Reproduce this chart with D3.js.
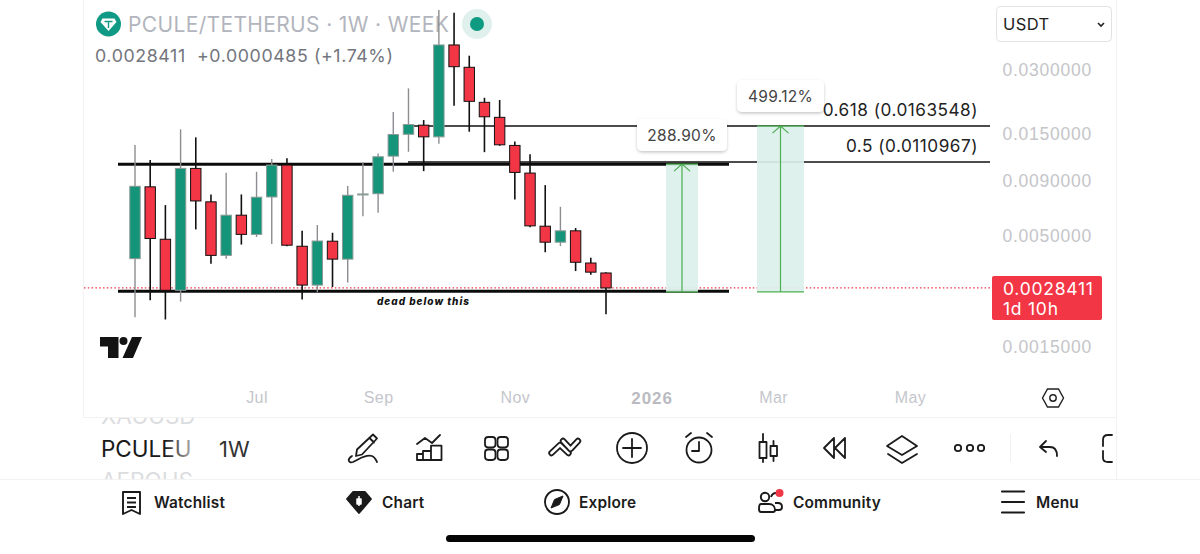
<!DOCTYPE html>
<html>
<head>
<meta charset="utf-8">
<style>
  html, body { margin: 0; padding: 0; background: #fff; }
  svg { display: block; font-family: Inter, "Noto Sans", sans-serif; }
</style>
<script src="https://cdn.jsdelivr.net/npm/d3@7/dist/d3.min.js"></script>
</head>
<body>
<svg id="chart" width="1200" height="554"></svg>
<script>
const WIDTH = 1200;
const HEIGHT = 554;

// weekly candles, first one is the week of 12 May 2025
const opens = [0.00390, 0.00848, 0.00481, 0.00277, 0.01035, 0.00721, 0.00404, 0.00624, 0.00507, 0.00760, 0.01073, 0.00446, 0.00293, 0.00471, 0.00388, 0.00777, 0.00787, 0.01182, 0.01497, 0.01652, 0.01456, 0.03933, 0.03089, 0.02115, 0.01798, 0.01327, 0.00984, 0.00554, 0.00466, 0.00527, 0.00372, 0.00334];
const highs = [0.01332, 0.01133, 0.00696, 0.01579, 0.01448, 0.00781, 0.00987, 0.00781, 0.00998, 0.01145, 0.01154, 0.00527, 0.00561, 0.00516, 0.00856, 0.01107, 0.01215, 0.01903, 0.02460, 0.01746, 0.05740, 0.05577, 0.03502, 0.02222, 0.02168, 0.01386, 0.01205, 0.00864, 0.00683, 0.00543, 0.00394, 0.00337];
const lows = [0.00207, 0.00249, 0.00202, 0.00245, 0.00535, 0.00369, 0.00390, 0.00454, 0.00493, 0.00457, 0.00446, 0.00251, 0.00271, 0.00287, 0.00301, 0.00617, 0.00640, 0.00998, 0.01239, 0.01005, 0.01353, 0.02037, 0.01539, 0.01234, 0.01321, 0.00740, 0.00547, 0.00418, 0.00447, 0.00341, 0.00328, 0.00214];
const closes = [0.00853, 0.00485, 0.00277, 0.01035, 0.00728, 0.00404, 0.00624, 0.00507, 0.00758, 0.01073, 0.00451, 0.00293, 0.00472, 0.00388, 0.00774, 0.00785, 0.01174, 0.01493, 0.01664, 0.01456, 0.03933, 0.03109, 0.02138, 0.01809, 0.01336, 0.00991, 0.00556, 0.00466, 0.00527, 0.00375, 0.00337, 0.0028411];

const priceTicks = [0.03, 0.015, 0.009, 0.005, 0.0015];
const timeTicks = ["2025-07-07", "2025-09-01", "2025-11-03", "2026-01-05", "2026-03-02", "2026-05-04"];
const timeLabels = ["Jul", "Sep", "Nov", "2026", "Mar", "May"];

const lastPrice = 0.0028411;
const resistance = 0.01084;
const support = 0.00274;
const fibLevels = [0.0163548, 0.0110967];
const fibLabels = ["0.618 (0.0163548)", "0.5 (0.0110967)"];

const toolbarItems = ["Watchlist", "Chart", "Explore", "Community", "Menu"];

const GREEN = "#149479";
const RED = "#f23645";
const ARROW_GREEN = "#4caf50";
const ZONE_FILL = "#dcf0ec";
const AXIS_TEXT = "#c4c5c9";

const svg = d3.select("#chart");
const defs = svg.append("defs");

const firstWeek = new Date(Date.UTC(2025, 4, 12));
const weeks = opens.map((d, i) => d3.utcWeek.offset(firstWeek, i));

const x = d3.scaleUtc().domain([weeks[0], weeks[31]]).range([135, 606]);
const y = d3.scaleLog().domain([0.03, 0.0015]).range([70, 347]);

const candles = weeks.map((w, i) => ({ date: w, open: opens[i], high: highs[i], low: lows[i], close: closes[i] }));

// frame
svg.append("rect").attr("width", WIDTH).attr("height", HEIGHT).attr("fill", "#fff");
const frame = svg.append("g").attr("stroke", "#f2f2f3").attr("stroke-width", 1);
frame.append("line").attr("x1", 83.5).attr("x2", 83.5).attr("y1", 0).attr("y2", 418);
frame.append("line").attr("x1", 1116.5).attr("x2", 1116.5).attr("y1", 0).attr("y2", 479);
frame.append("line").attr("x1", 84).attr("x2", 1117).attr("y1", 417.5).attr("y2", 417.5);
frame.append("line").attr("x1", 0).attr("x2", WIDTH).attr("y1", 479.5).attr("y2", 479.5);

// price axis
const priceAxis = d3.axisRight(y)
  .tickValues(priceTicks)
  .tickSize(0)
  .tickFormat(d3.format(".7f"));
const priceG = svg.append("g").attr("transform", "translate(995,0)").call(priceAxis);
priceG.select(".domain").remove();
priceG.selectAll("text")
  .attr("x", 97).attr("text-anchor", "end")
  .attr("fill", AXIS_TEXT).attr("font-size", 17.5).attr("letter-spacing", 0.75);

// time axis
const timeAxis = d3.axisBottom(x)
  .tickValues(timeTicks.map(d => new Date(d + "T00:00:00Z")))
  .tickSize(0)
  .tickFormat((d, i) => timeLabels[i]);
const timeG = svg.append("g").attr("transform", "translate(0,388)").call(timeAxis);
timeG.select(".domain").remove();
timeG.selectAll("text")
  .attr("y", 3.5).attr("dy", "0.71em")
  .attr("fill", (d, i) => timeLabels[i] === "2026" ? "#b9bbc1" : "#c4c6cc")
  .attr("font-size", (d, i) => timeLabels[i] === "2026" ? 17 : 16)
  .attr("font-weight", (d, i) => timeLabels[i] === "2026" ? 700 : 400)
  .attr("letter-spacing", (d, i) => timeLabels[i] === "2026" ? 1 : 0.4);

// last price line
svg.append("line")
  .attr("x1", 84).attr("x2", 990)
  .attr("y1", y(lastPrice)).attr("y2", y(lastPrice))
  .attr("stroke", RED).attr("stroke-width", 1.2).attr("stroke-dasharray", "1.5 2.3");

// fib levels
svg.selectAll(".fib").data(fibLevels).join("line")
  .attr("class", "fib")
  .attr("x1", 408).attr("x2", 990)
  .attr("y1", d => y(d)).attr("y2", d => y(d))
  .attr("stroke", "#111").attr("stroke-width", 1.5);

// hand drawn support and resistance
svg.selectAll(".sr").data([resistance, support]).join("line")
  .attr("class", "sr")
  .attr("x1", 118).attr("x2", 729)
  .attr("y1", d => y(d)).attr("y2", d => y(d))
  .attr("stroke", "#0b0b0b").attr("stroke-width", 3);

svg.append("text")
  .attr("x", 423.5).attr("y", 304.5).attr("text-anchor", "middle")
  .attr("font-size", 10).attr("font-weight", 800).attr("font-style", "italic")
  .attr("letter-spacing", 1).attr("fill", "#111")
  .text("dead below this");

// title goes behind the candles, the big wick crosses it
svg.append("text")
  .attr("x", 128).attr("y", 32)
  .attr("font-size", 21).attr("fill", "#b2b5bd").attr("letter-spacing", 0.35)
  .text("PCULE/TETHERUS · 1W · WEEK");

// candles
const candleG = svg.selectAll(".candle").data(candles).join("g").attr("class", "candle");
const isUp = d => d.close >= d.open;
candleG.append("line")
  .attr("x1", d => x(d.date)).attr("x2", d => x(d.date))
  .attr("y1", d => y(d.high)).attr("y2", d => y(d.low))
  .attr("stroke", d => isUp(d) ? "#8b8d90" : "#111")
  .attr("stroke-width", d => isUp(d) ? 1.4 : 1.6);
candleG.append("rect")
  .attr("x", d => x(d.date) - 5.2)
  .attr("width", 10.4)
  .attr("y", d => y(Math.max(d.open, d.close)))
  .attr("height", d => Math.max(1, Math.abs(y(d.open) - y(d.close))))
  .attr("fill", d => isUp(d) ? GREEN : RED)
  .attr("stroke", d => isUp(d) ? "#8b9a96" : "#111")
  .attr("stroke-width", 1);

// measure zones
const zones = [
  { cx: 682, w: 32, top: resistance, bottom: support, label: "288.90%", boxX: 637, boxY: 119, boxW: 90, boxH: 32 },
  { cx: 780.5, w: 47, top: fibLevels[0], bottom: support, label: "499.12%", boxX: 737, boxY: 80, boxW: 87, boxH: 32 }
];
const shadow = defs.append("filter").attr("id", "soft").attr("x", "-20%").attr("y", "-30%").attr("width", "140%").attr("height", "170%");
shadow.append("feDropShadow").attr("dx", 0).attr("dy", 1.5).attr("stdDeviation", 1.8)
  .attr("flood-color", "#000").attr("flood-opacity", 0.22);

zones.forEach(z => {
  const g = svg.append("g");
  const top = y(z.top);
  const bottom = y(z.bottom) + 0.5;
  g.append("rect").attr("x", z.cx - z.w / 2).attr("width", z.w)
    .attr("y", top).attr("height", bottom - top)
    .attr("fill", ZONE_FILL).attr("opacity", 0.92);
  g.append("path")
    .attr("d", `M${z.cx - z.w / 2} ${bottom}H${z.cx + z.w / 2}M${z.cx - z.w / 2} ${top}H${z.cx + z.w / 2}M${z.cx} ${bottom}V${top}M${z.cx - 8} ${top + 7}L${z.cx} ${top}L${z.cx + 8} ${top + 7}`)
    .attr("fill", "none").attr("stroke", ARROW_GREEN).attr("stroke-width", 1.2);
  g.append("rect").attr("x", z.boxX).attr("y", z.boxY).attr("width", z.boxW).attr("height", z.boxH)
    .attr("rx", 5).attr("fill", "#fff").attr("filter", "url(#soft)");
  g.append("text").attr("x", z.boxX + z.boxW / 2).attr("y", z.boxY + 21.5).attr("text-anchor", "middle")
    .attr("font-size", 15.5).attr("letter-spacing", 0.3).attr("fill", "#444").text(z.label);
});

// fib labels sit above their line
svg.selectAll(".fib-label").data(fibLevels).join("text")
  .attr("class", "fib-label")
  .attr("x", 978).attr("text-anchor", "end")
  .attr("y", d => y(d) - 10)
  .attr("font-size", 17.2).attr("letter-spacing", 0.5).attr("fill", "#222")
  .text((d, i) => fibLabels[i]);

// last price tag
svg.append("rect").attr("x", 992).attr("y", 276).attr("width", 110).attr("height", 44).attr("rx", 2).attr("fill", RED);
svg.append("text").attr("x", 1003).attr("y", 295).attr("font-size", 17.5).attr("letter-spacing", 0.75).attr("fill", "#fff").text(d3.format(".7f")(lastPrice));
svg.append("text").attr("x", 1003).attr("y", 315).attr("font-size", 17.5).attr("letter-spacing", 0.75).attr("fill", "#fff").text("1d 10h");

// header
svg.append("circle").attr("cx", 108.5).attr("cy", 24).attr("r", 12.5).attr("fill", "#109a85");
svg.append("path").attr("d", "M102.5 18.5H114.5L116.5 22L108.5 31L100.5 22Z").attr("fill", "#fff");
svg.append("path").attr("d", "M104.5 21.5H112.5M108.5 21.5V28").attr("stroke", "#109a85").attr("stroke-width", 1.4);

svg.append("text")
  .attr("x", 95).attr("y", 62)
  .attr("font-size", 17.8).attr("fill", "#73767d").attr("letter-spacing", 0.6)
  .attr("xml:space", "preserve")
  .text("0.0028411  +0.0000485 (+1.74%)");
svg.append("circle").attr("cx", 477).attr("cy", 24).attr("r", 15).attr("fill", "#dff0ed");
svg.append("circle").attr("cx", 477).attr("cy", 24).attr("r", 7).attr("fill", "#0f9a82");

svg.append("rect").attr("x", 996.5).attr("y", 6.5).attr("width", 115).attr("height", 35).attr("rx", 4)
  .attr("fill", "#fff").attr("stroke", "#e1e2e4");
svg.append("text").attr("x", 1003).attr("y", 30).attr("font-size", 16.5).attr("letter-spacing", 0.4).attr("fill", "#222").text("USDT");
svg.append("path").attr("d", "M1098 23L1101 26L1104 23").attr("fill", "none").attr("stroke", "#222").attr("stroke-width", 1.6);

// tradingview mark
svg.append("path").attr("d", "M100 337H118.5V358H108V346.5H100ZM132 337H142L133 358H122.5Z").attr("fill", "#131313");
svg.append("circle").attr("cx", 123.5).attr("cy", 341).attr("r", 4).attr("fill", "#131313");

// settings hexagon
svg.append("path").attr("d", "M1047.5 389H1058.5L1063.5 398L1058.5 407H1047.5L1042.5 398Z").attr("fill", "none").attr("stroke", "#222").attr("stroke-width", 1.4);
svg.append("circle").attr("cx", 1053).attr("cy", 398).attr("r", 3.2).attr("fill", "none").attr("stroke", "#222").attr("stroke-width", 1.4);

// symbol picker
const fade = defs.append("linearGradient").attr("id", "symbolFade").attr("gradientUnits", "userSpaceOnUse")
  .attr("x1", 165).attr("x2", 194).attr("y1", 0).attr("y2", 0);
fade.append("stop").attr("offset", 0).attr("stop-color", "#1a1a1a");
fade.append("stop").attr("offset", 1).attr("stop-color", "#b9b9b9");
defs.append("clipPath").attr("id", "pickerClip").append("rect").attr("x", 84).attr("y", 418).attr("width", 120).attr("height", 61);

const picker = svg.append("g").attr("clip-path", "url(#pickerClip)").attr("font-size", 22.5);
picker.append("text").attr("x", 101).attr("y", 424).attr("fill", "#dcdde0").text("XAUUSD");
picker.append("text").attr("x", 101).attr("y", 457).attr("fill", "url(#symbolFade)").text("PCULEU");
picker.append("text").attr("x", 101).attr("y", 489).attr("fill", "#dcdde0").text("AEROUS");
svg.append("text").attr("x", 219).attr("y", 457).attr("font-size", 22).attr("fill", "#333").text("1W");

// toolbar icons, drawn as outlines
const tools = svg.append("g").attr("fill", "none").attr("stroke", "#1b1b1b").attr("stroke-width", 1.8)
  .attr("stroke-linecap", "round").attr("stroke-linejoin", "round");
tools.append("path").attr("d", "M373 434.5L377 438.5L362 454.5L356 456L357 449.5ZM369.5 438L374 442.5M352 456C347 459 348 463.5 353 462C359 459.5 365 454 372 456C375 457 376 460 377 462");
tools.append("path").attr("d", "M417 444L425 438L432 443L440 435M417 460V454H423V451H431V445.7H441.5V460ZM423 454V460M431 451V460");
[[485, 437], [497.5, 437], [485, 449.5], [497.5, 449.5]].forEach(c => {
  tools.append("rect").attr("x", c[0]).attr("y", c[1]).attr("width", 10.5).attr("height", 10.5).attr("rx", 3.2);
});
// the two chevrons are outlined bands, thick black with white on top
[["M551.5 453L560 445L568.5 453"], ["M563 441L570.5 449L578 441"]].forEach(d => {
  tools.append("path").attr("d", d[0]).attr("stroke-width", 6.4).attr("stroke-linecap", "round");
  tools.append("path").attr("d", d[0]).attr("stroke", "#fff").attr("stroke-width", 2.8).attr("stroke-linecap", "round");
});
tools.append("circle").attr("cx", 632).attr("cy", 448).attr("r", 15);
tools.append("path").attr("d", "M623 448H641M632 439V457");
tools.append("circle").attr("cx", 699).attr("cy", 450).attr("r", 12.5);
tools.append("path").attr("d", "M699 442V451H692M686 437L691 433M712 437L707 433");
tools.append("path").attr("d", "M763 434V442M763 458V462M759.5 442H766.5V458H759.5ZM773.5 441V446M773.5 456V461M770.5 446H777V456H770.5Z");
tools.append("path").attr("d", "M834 438L824 448L834 458ZM845 438L835 448L845 458Z");
tools.append("path").attr("d", "M902 436L917 446L902 455L887 446ZM888 454L902 463L917 454");
[958, 970, 981].forEach(cx => tools.append("circle").attr("cx", cx).attr("cy", 448).attr("r", 3.2));
svg.append("line").attr("x1", 1010.5).attr("x2", 1010.5).attr("y1", 434).attr("y2", 462).attr("stroke", "#f1f1f2");
tools.append("path").attr("d", "M1046 441L1040 447L1046 452M1040 447H1050C1055 447 1057 451 1057 456");
tools.append("path").attr("d", "M1112 435H1108C1105 435 1103 437 1103 440V446M1103 451V458C1103 461 1105 462 1108 462H1112");

// bottom nav
const nav = svg.append("g").attr("fill", "none").attr("stroke", "#1a1a1a").attr("stroke-width", 1.9).attr("stroke-linejoin", "round");
nav.append("path").attr("d", "M123 492H140V514L131.5 510L123 514ZM127 498H136M127 502.5H136M127 507H136");
nav.append("path").attr("d", "M353 492H365L371 499L359 513L347 499Z").attr("fill", "#1a1a1a");
nav.append("path").attr("d", "M359 496V506M357 499H361V504H357Z").attr("stroke", "#fff").attr("stroke-width", 1.5).attr("fill", "#fff");
nav.append("circle").attr("cx", 557).attr("cy", 502).attr("r", 12);
nav.append("path").attr("d", "M563 496L559.5 504.5L551 508L554.5 499.5Z").attr("fill", "#1a1a1a").attr("stroke-width", 1);
nav.append("circle").attr("cx", 765).attr("cy", 497).attr("r", 4.2);
nav.append("path").attr("d", "M761 504H769C773 504 775 507 775 510C775 511 774 512 773 512H761C760 512 759 511 759 509C759 506 759.5 504 761 504ZM771 497C772 494 774 493 776 493M775 503H778C781 503 782 505 782 507C782 509 781 510 779 510H775");
nav.append("path").attr("d", "M1002 491.5H1024M1002 502H1024M1002 512.5H1024").attr("stroke-width", 2.2).attr("stroke-linecap", "round");
svg.append("circle").attr("cx", 779.5).attr("cy", 493).attr("r", 4).attr("fill", RED);

const navX = [154, 382, 579, 793, 1036];
svg.selectAll(".nav-label").data(toolbarItems).join("text")
  .attr("class", "nav-label")
  .attr("x", (d, i) => navX[i]).attr("y", 507.5)
  .attr("font-size", 15.4).attr("font-weight", 600).attr("letter-spacing", 0.2).attr("fill", "#1c1c1c")
  .text(d => d);

// home indicator
svg.append("rect").attr("x", 446).attr("y", 535).attr("width", 309).attr("height", 7).attr("rx", 3.5).attr("fill", "#050505");
</script>
</body>
</html>
